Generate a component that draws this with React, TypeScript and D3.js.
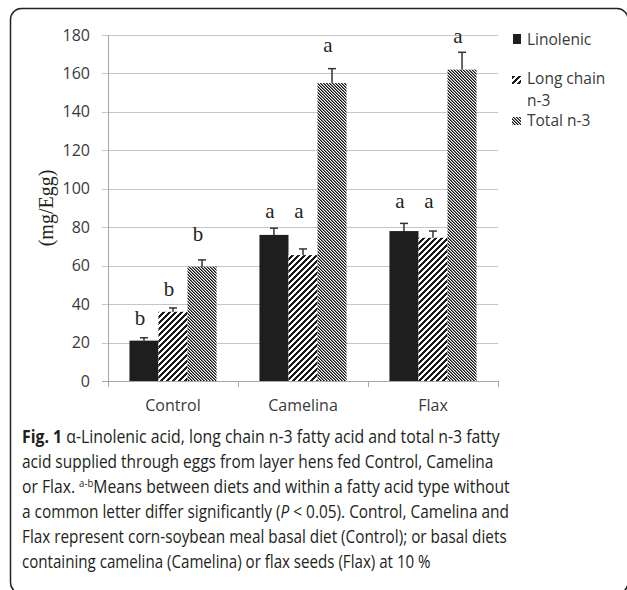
import React, { useLayoutEffect, useRef } from "react";
import * as d3 from "d3";

const categories = ["Control", "Camelina", "Flax"];
const seriesNames = ["Linolenic", "Long chain n-3", "Total n-3"];
const linolenic = [21, 76, 78];
const linolenicSE = [1.5, 3.5, 4];
const longChain = [36, 65.5, 74.5];
const longChainSE = [2, 3.2, 3.5];
const totalN3 = [59.5, 155, 162];
const totalN3SE = [3.5, 7.5, 9];
const letters = [
  ["b", "a", "a"],
  ["b", "a", "a"],
  ["b", "a", "a"],
];
// letter baseline levels in data units (per series, per category)
const letterLevels = [
  [29, 85, 90],
  [44, 85, 90],
  [73, 171, 176],
];
const yTicks = [0, 20, 40, 60, 80, 100, 120, 140, 160, 180];
const captionLines = [
  "acid supplied through eggs from layer hens fed Control, Camelina",
  "Flax represent corn-soybean meal basal diet (Control); or basal diets",
  "containing camelina (Camelina) or flax seeds (Flax) at 10 %",
];
const captionWidths = [478, 472, 488, 487, 485, 409];

const W = 627;
const H = 590;
const plotLeft = 108;
const plotRight = 498;
const plotTop = 35;
const plotBottom = 381;
const capX = 22;

export default function App() {
  const capRef = useRef<SVGGElement>(null);
  useLayoutEffect(() => {
    const g = capRef.current;
    if (!g) return;
    const texts = Array.from(g.querySelectorAll("text")) as SVGTextElement[];
    texts.forEach((t, i) => {
      t.removeAttribute("transform");
      const w = t.getComputedTextLength();
      if (w > 0) {
        const s = captionWidths[i] / w;
        t.setAttribute("transform", `translate(${capX},0) scale(${s},1) translate(${-capX},0)`);
      }
    });
  }, []);

  const values = [linolenic, longChain, totalN3];
  const ses = [linolenicSE, longChainSE, totalN3SE];
  const y = d3.scaleLinear().domain([0, 180]).range([plotBottom, plotTop]);
  const x0 = d3
    .scaleBand<string>()
    .domain(categories)
    .range([plotLeft, plotRight])
    .paddingInner(0.33)
    .paddingOuter(0.165);
  const x1 = d3
    .scaleBand<string>()
    .domain(seriesNames)
    .range([0, x0.bandwidth()]);
  const fills = ["#1e1e1e", "url(#lcPat)", "url(#totPat)"];
  const step = x0.step();
  const catEdges = categories.map((c) => (x0(c) as number) - x0.paddingOuter() * step + step);

  const lcPixels: JSX.Element[] = [];
  for (let i = 0; i < 6; i++)
    for (let j = 0; j < 6; j++)
      if ((i + j) % 6 < 3) lcPixels.push(<rect key={`${i}-${j}`} x={i} y={j} width={1} height={1} fill="#1a1a1a" />);
  const totPixels: JSX.Element[] = [];
  for (let i = 0; i < 3; i++)
    for (let j = 0; j < 3; j++) {
      const m = (((i - j) % 3) + 3) % 3;
      if (m === 0) totPixels.push(<rect key={`${i}-${j}`} x={i} y={j} width={1} height={1} fill="#111" />);
      if (m === 1) totPixels.push(<rect key={`${i}-${j}`} x={i} y={j} width={1} height={1} fill="#777" />);
    }

  const font = "'Open Sans', sans-serif";
  const serif = "'Liberation Serif', 'Times New Roman', serif";
  const textColor = "#3a3a3a";
  const capColor = "#231f20";

  return (
    <svg width={W} height={H} style={{ position: "absolute", left: 0, top: 0, background: "#fff" }}>
      <defs>
        <pattern id="lcPat" patternUnits="userSpaceOnUse" width={6} height={6}>
          <rect width={6} height={6} fill="#fff" />
          {lcPixels}
        </pattern>
        <pattern id="totPat" patternUnits="userSpaceOnUse" width={3} height={3}>
          <rect width={3} height={3} fill="#fff" />
          {totPixels}
        </pattern>
      </defs>
      <rect x={0} y={0} width={W} height={H} fill="#fff" />
      {/* frame */}
      <rect x={10.5} y={8.5} width={617.5} height={585} rx={11} ry={11} fill="none" stroke="#222" strokeWidth={1.5} />

      {yTicks.map((t) => (
        <line
          key={t}
          x1={plotLeft - 6}
          x2={plotRight}
          y1={Math.round(y(t)) + 0.5}
          y2={Math.round(y(t)) + 0.5}
          stroke={t === 0 ? "#a6a6a6" : "#c6c6c6"}
          strokeWidth={1}
        />
      ))}
      <line x1={plotLeft + 0.5} x2={plotLeft + 0.5} y1={plotTop} y2={plotBottom + 6} stroke="#a6a6a6" />
      {catEdges.map((e, i) => (
        <line key={i} x1={Math.round(e) + 0.5} x2={Math.round(e) + 0.5} y1={plotBottom} y2={plotBottom + 6} stroke="#a6a6a6" />
      ))}
      {yTicks.map((t) => (
        <text key={t} x={90} y={y(t)} dy="0.35em" textAnchor="end" fontFamily={font} fontSize={16} fill={textColor}>
          {t}
        </text>
      ))}
      <text
        transform={`translate(${53},${y(90)})rotate(-90)`}
        textAnchor="middle"
        fontFamily={serif}
        fontSize={20}
        fill={capColor}
      >
        (mg/Egg)
      </text>

      {values.map((vals, si) =>
        vals.map((v, ci) => {
          const bx = (x0(categories[ci]) as number) + (x1(seriesNames[si]) as number);
          const bw = x1.bandwidth();
          const top = y(v);
          const eTop = y(v + ses[si][ci]);
          const cx = bx + bw / 2;
          return (
            <g key={`${si}-${ci}`}>
              <rect x={bx} y={top} width={bw} height={plotBottom - top} fill={fills[si]} />
              <line x1={cx} x2={cx} y1={top} y2={eTop} stroke="#333" strokeWidth={1.5} />
              <line x1={cx - 4} x2={cx + 4} y1={eTop} y2={eTop} stroke="#333" strokeWidth={1.5} />
              <text x={cx - 4} y={y(letterLevels[si][ci])} textAnchor="middle" fontFamily={serif} fontSize={21} fill={capColor}>
                {letters[si][ci]}
              </text>
            </g>
          );
        })
      )}

      {categories.map((c) => (
        <text
          key={c}
          x={(x0(c) as number) + x0.bandwidth() / 2}
          y={411}
          textAnchor="middle"
          fontFamily={font}
          fontSize={16}
          fill={textColor}
        >
          {c}
        </text>
      ))}

      <g fontFamily={font} fontSize={15.5} fill={textColor}>
        <rect x={513} y={34} width={8} height={10} fill={fills[0]} />
        <text x={527} y={45}>Linolenic</text>
        <rect x={512} y={76} width={9} height={8} fill={fills[1]} />
        <text x={527} y={84}>Long chain</text>
        <text x={527} y={106}>n-3</text>
        <rect x={512} y={117} width={9} height={8} fill={fills[2]} />
        <text x={527} y={126}>Total n-3</text>
      </g>

      <g ref={capRef} fontFamily={font} fontSize={18} fill={capColor}>
        <text x={capX} y={443}>
          <tspan fontWeight="bold">Fig. 1</tspan> α-Linolenic acid, long chain n-3 fatty acid and total n-3 fatty
        </text>
        <text x={capX} y={468}>{captionLines[0]}</text>
        <text x={capX} y={493}>
          or Flax. <tspan fontSize={11} dy={-6}>a-b</tspan>
          <tspan dy={6}>Means between diets and within a fatty acid type without</tspan>
        </text>
        <text x={capX} y={518}>
          a common letter differ significantly (<tspan fontStyle="italic">P</tspan> &lt; 0.05). Control, Camelina and
        </text>
        <text x={capX} y={543}>{captionLines[1]}</text>
        <text x={capX} y={568}>{captionLines[2]}</text>
      </g>
    </svg>
  );
}
